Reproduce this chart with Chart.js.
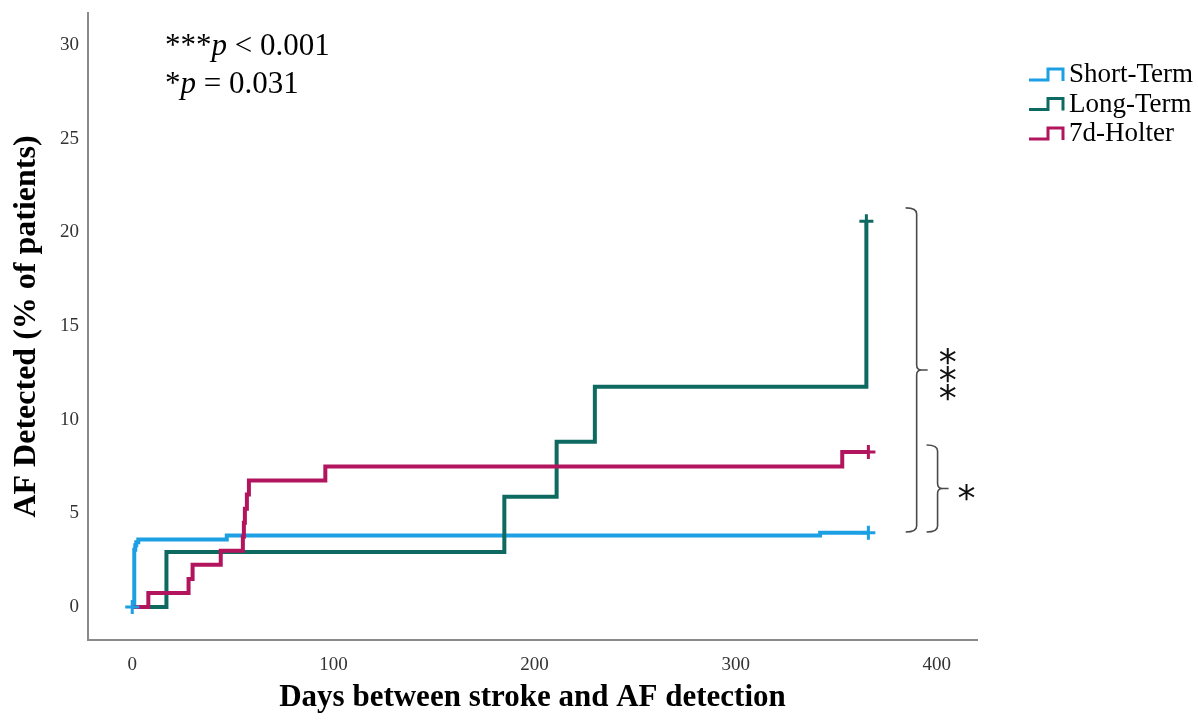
<!DOCTYPE html>
<html>
<head>
<meta charset="utf-8">
<script src="https://cdn.jsdelivr.net/npm/chart.js@4.4.1/dist/chart.umd.min.js"></script>
<style>
html, body { margin: 0; padding: 0; background: #fff; }
#wrap { width: 1198px; height: 721px; }
</style>
</head>
<body>
<div id="wrap"><canvas id="myChart"></canvas></div>
<script>
// series
var seriesNames = ['Short-Term', 'Long-Term', '7d-Holter'];
var seriesColors = ['#1d9fe4', '#0e6a60', '#b2145e'];

var shortDays = [0, 1, 1.5, 2, 3, 47, 342, 366];
var shortVals = [0, 3.05, 3.3, 3.45, 3.6, 3.82, 3.97, 3.97];
var shortCensorDays = [0, 366];
var shortCensorVals = [0, 3.97];

var longDays = [0, 17, 185, 211, 230, 365];
var longVals = [0, 2.94, 5.88, 8.82, 11.76, 20.59];
var longCensorDays = [365];
var longCensorVals = [20.59];

var holterDays = [0, 8, 28, 30, 44, 55, 55.5, 56, 57, 58, 96, 353, 366];
var holterVals = [0, 0.75, 1.5, 2.25, 3.0, 3.75, 4.5, 5.25, 6.0, 6.75, 7.5, 8.27, 8.27];
var holterCensorDays = [366];
var holterCensorVals = [8.27];

// significance brackets
var bracketTops = [21.3, 8.65];
var bracketBottoms = [4.0, 4.0];
var bracketDays = [390, 400.4];
var bracketStars = ['***', '*'];

var pTexts = [['***', 'p', ' < 0.001'], ['*', 'p', ' = 0.031']];

function pts(xs, ys) {
    return xs.map(function(x, i) { return {x: x, y: ys[i]}; });
}

function stepSet(i, xs, ys, ord) {
    return {
        label: seriesNames[i],
        data: pts(xs, ys),
        borderColor: seriesColors[i],
        backgroundColor: seriesColors[i],
        borderWidth: 4,
        stepped: true,
        pointRadius: 0,
        fill: false,
        order: ord
    };
}

function censorSet(i, xs, ys, ord) {
    return {
        label: seriesNames[i] + ' censored',
        data: pts(xs, ys),
        showLine: false,
        pointStyle: 'cross',
        pointRadius: 7,
        borderColor: seriesColors[i],
        borderWidth: 3,
        order: ord
    };
}

var serif = "'Liberation Serif', 'Times New Roman', serif";

var extras = {
    id: 'extras',
    afterDraw: function(chart) {
        var c = chart.ctx;
        var xs = chart.scales.x, ys = chart.scales.y;
        var area = chart.chartArea;
        c.save();

        // p-values
        c.fillStyle = '#000';
        c.textBaseline = 'alphabetic';
        c.textAlign = 'left';
        pTexts.forEach(function(parts, r) {
            var x = area.left + 77;
            var y = 55 + r * 38;
            parts.forEach(function(t, k) {
                c.font = (k === 1 ? 'italic ' : '') + '31px ' + serif;
                c.fillText(t, x, y);
                x += c.measureText(t).width;
            });
        });

        // brackets
        bracketTops.forEach(function(top, i) {
            var x = xs.getPixelForValue(bracketDays[i]);
            var yt = ys.getPixelForValue(top);
            var yb = ys.getPixelForValue(bracketBottoms[i]);
            var ym = (yt + yb) / 2;
            c.strokeStyle = '#4a4a4a';
            c.lineWidth = 1.6;
            c.beginPath();
            c.moveTo(x - 11, yt);
            c.quadraticCurveTo(x, yt, x, yt + 6);
            c.lineTo(x, ym - 5);
            c.quadraticCurveTo(x, ym, x + 5, ym);
            c.lineTo(x + 11, ym);
            c.moveTo(x + 5, ym);
            c.quadraticCurveTo(x, ym, x, ym + 5);
            c.lineTo(x, yb - 6);
            c.quadraticCurveTo(x, yb, x - 11, yb);
            c.stroke();

            c.fillStyle = '#111';
            var fs = 36;
            c.font = fs + "px 'DejaVu Sans', sans-serif";
            c.textAlign = 'center';
            c.textBaseline = 'alphabetic';
            var n = bracketStars[i].length;
            var sx = x + (n > 1 ? 31 : 29);
            for (var k = 0; k < n; k++) {
                var cy = ym + (k - (n - 1) / 2) * 18;
                c.fillText('*', sx, cy + fs * 0.6);
            }
        });

        // legend
        c.font = '27px ' + serif;
        c.textAlign = 'left';
        c.textBaseline = 'alphabetic';
        c.lineWidth = 3;
        seriesNames.forEach(function(name, i) {
            var base = 82 + i * 29.5;
            var y0 = base - 2, y1 = base - 13;
            c.strokeStyle = seriesColors[i];
            c.beginPath();
            c.moveTo(1029, y0);
            c.lineTo(1048, y0);
            c.lineTo(1048, y1);
            c.lineTo(1063, y1);
            c.lineTo(1063, y0 + 1);
            c.stroke();
            c.fillStyle = '#000';
            c.fillText(name, 1069, base);
        });
        c.restore();
    }
};

var ctx = document.getElementById('myChart').getContext('2d');
var myChart = new Chart(ctx, {
    type: 'line',
    data: {
        datasets: [
            stepSet(0, shortDays, shortVals, 6),
            stepSet(1, longDays, longVals, 5),
            stepSet(2, holterDays, holterVals, 4),
            censorSet(0, shortCensorDays, shortCensorVals, 3),
            censorSet(1, longCensorDays, longCensorVals, 2),
            censorSet(2, holterCensorDays, holterCensorVals, 1)
        ]
    },
    options: {
        responsive: true,
        maintainAspectRatio: false,
        animation: false,
        layout: { padding: { top: 13, right: 221, left: 0, bottom: 0 } },
        plugins: {
            legend: { display: false },
            tooltip: { enabled: false }
        },
        scales: {
            x: {
                type: 'linear',
                min: -22,
                max: 420,
                afterFit: function(s) { s.height = 81; },
                grid: { display: false, drawTicks: false },
                border: { display: true, color: '#8a8a8a', width: 2 },
                ticks: {
                    stepSize: 100,
                    includeBounds: false,
                    padding: 14,
                    color: '#333',
                    font: { family: serif, size: 19 }
                },
                title: {
                    display: true,
                    text: 'Days between stroke and AF detection',
                    color: '#000',
                    font: { family: serif, size: 31, weight: 'bold' },
                    padding: { top: 0, bottom: 4 }
                }
            },
            y: {
                type: 'linear',
                min: -1.76,
                max: 31.7,
                afterFit: function(s) {
                    s.width = 88;
                    s.paddingTop = 0;
                    s.paddingBottom = 0;
                },
                grid: { display: false, drawTicks: false },
                border: { display: true, color: '#8a8a8a', width: 2 },
                ticks: {
                    stepSize: 5,
                    includeBounds: false,
                    padding: 9,
                    color: '#333',
                    font: { family: serif, size: 19 }
                },
                title: {
                    display: true,
                    text: 'AF Detected (% of patients)',
                    color: '#000',
                    font: { family: serif, size: 32, weight: 'bold' },
                    padding: { top: 8, bottom: 0 }
                }
            }
        }
    },
    plugins: [extras]
});
</script>
</body>
</html>
